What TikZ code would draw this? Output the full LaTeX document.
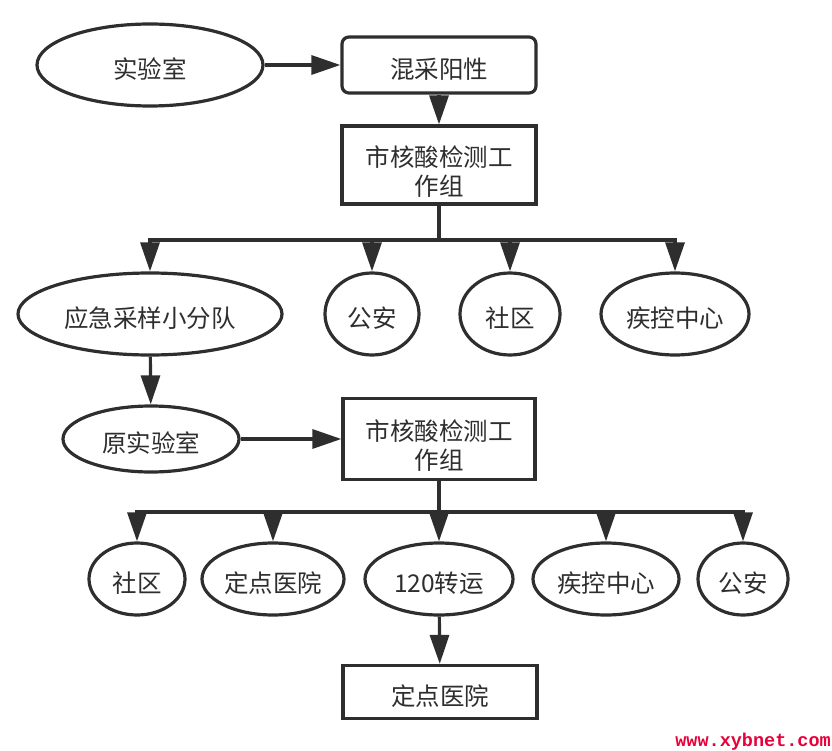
\documentclass[tikz,border=0pt]{standalone}
\usepackage{fontspec}
\setmainfont{Noto Sans CJK SC}
\newfontfamily\wmfont{Liberation Mono}
\usetikzlibrary{shapes.geometric,arrows.meta}
\definecolor{ink}{HTML}{2E2E2E}
\definecolor{wmred}{HTML}{E8003A}
\newcommand{\topgap}{\rule{0pt}{33.5pt}}
\begin{document}
\begin{tikzpicture}[x=1pt,y=-1pt,
  every node/.style={text=ink,font=\fontsize{24.5}{29}\selectfont,inner sep=0pt},
  low/.style={text height=30pt,text depth=3pt},
  oval/.style={draw=ink,line width=3.2pt,ellipse,low},
  boxnode/.style={draw=ink,line width=3.2pt,rectangle,align=center},
  arr/.style={draw=ink,line width=3.2pt,-{Triangle[length=29pt,width=19pt]}},
  ln/.style={draw=ink,line width=3.2pt}]
\useasboundingbox (0,0) rectangle (832,751);
% top row
\node[oval,minimum width=226pt,minimum height=82pt] (lab) at (150,65) {实验室};
\node[boxnode,low,rounded corners=7pt,minimum width=194pt,minimum height=56pt] (mix) at (439,65) {混采阳性};
\node[boxnode,minimum width=194pt,minimum height=78pt] (grp1) at (439,165) {\topgap 市核酸检测工\\作组};
\coordinate (b1) at (439,240);
% second row
\node[oval,minimum width=264pt,minimum height=82pt] (team) at (150,314) {应急采样小分队};
\node[oval,minimum width=94pt,minimum height=82pt] (police1) at (372,314) {公安};
\node[oval,minimum width=100pt,minimum height=82pt] (comm1) at (510,314) {社区};
\node[oval,minimum width=148pt,minimum height=82pt] (cdc1) at (675,314) {疾控中心};
% third row
\node[oval,minimum width=176pt,minimum height=66pt] (olab) at (151,439) {原实验室};
\node[boxnode,minimum width=192pt,minimum height=81pt] (grp2) at (439,439) {\topgap 市核酸检测工\\作组};
\coordinate (b2) at (439,512);
% fourth row
\node[oval,minimum width=96pt,minimum height=72pt] (comm2) at (137,579) {社区};
\node[oval,minimum width=142pt,minimum height=72pt] (hosp1) at (273,579) {定点医院};
\node[oval,minimum width=148pt,minimum height=72pt] (trans) at (439,579) {120转运};
\node[oval,minimum width=146pt,minimum height=72pt] (cdc2) at (606,579) {疾控中心};
\node[oval,minimum width=90pt,minimum height=72pt] (police2) at (743,579) {公安};
\node[boxnode,low,minimum width=194pt,minimum height=53pt] (hosp2) at (440,692) {定点医院};
% watermark
\node[text=wmred,font=\wmfont\bfseries\fontsize{18.5}{18.5}\selectfont,anchor=east] (wm) at (831,742) {www.xybnet.com};
% connectors
\draw[arr] (lab) -- (mix);
\draw[arr] (mix) -- (grp1);
\draw[ln] (grp1.south) -- (b1);
\draw[arr] (b1) -| (team.north);
\draw[arr] (b1) -| (police1.north);
\draw[arr] (b1) -| (comm1.north);
\draw[arr] (b1) -| (cdc1.north);
\draw[arr] (team) -- (olab);
\draw[arr] (olab) -- (grp2);
\draw[ln] (grp2.south) -- (b2);
\draw[arr] (b2) -| (comm2.north);
\draw[arr] (b2) -| (hosp1.north);
\draw[arr] (b2) -- (trans.north);
\draw[arr] (b2) -| (cdc2.north);
\draw[arr] (b2) -| (police2.north);
\draw[arr] (trans) -- (hosp2);
\end{tikzpicture}
\end{document}
